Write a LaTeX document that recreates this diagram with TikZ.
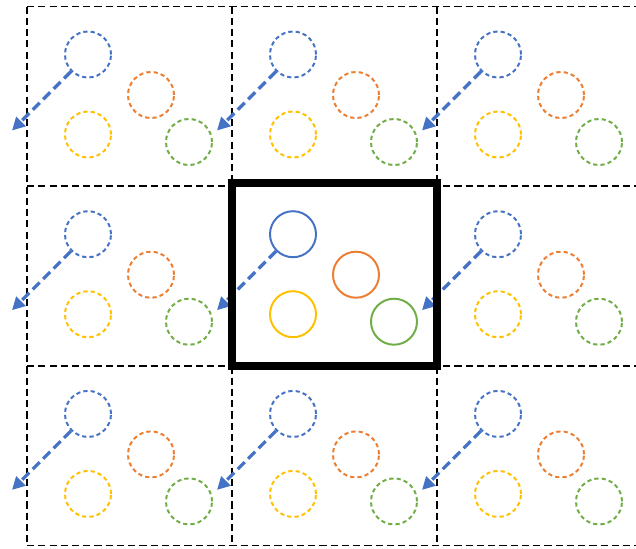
\documentclass[tikz,border=0pt]{standalone}
\usetikzlibrary{arrows.meta}
\definecolor{bleu}{HTML}{4472C4}
\definecolor{orange}{HTML}{ED7D31}
\definecolor{jaune}{HTML}{FFC000}
\definecolor{vert}{HTML}{70AD47}
\begin{document}
\begin{tikzpicture}[x=0.025cm,y=-0.025cm,
  cellule/.style={line width=1.1pt,dash pattern=on 5pt off 3pt},
  part/.style={circle,draw,minimum size=1.15cm,inner sep=0pt,line width=1.4pt},
  pointille/.style={dash pattern=on 3pt off 2.2pt},
  plein/.style={solid},
  fleche/.style={bleu,line width=2.3pt,dash pattern=on 7pt off 3.5pt,
    -{Triangle[length=0.32cm,width=0.32cm]}}]

\useasboundingbox (0,0) rectangle (636,548);
\clip (0,0) rectangle (636,548);

% Grille des images
\foreach \x in {27,232,437}
  \draw[cellule] (\x,6.5) -- (\x,546);
\foreach \y in {6.5,186.2,365.9,545.6}
  \draw[cellule] (27,\y) -- (636,\y);

\foreach \c in {0,1,2}{
  \foreach \r in {0,1,2}{
    \pgfmathsetmacro\x{27+205*\c}
    \pgfmathsetmacro\y{6.5+179.7*\r}
    \edef\sty{\ifnum\c=1 \ifnum\r=1 plein\else pointille\fi\else pointille\fi}
    % Particules
    \node[part,bleu,\sty] (b\c\r) at (\x+61,\y+48) {};
    \node[part,orange,\sty] (o\c\r) at (\x+124,\y+88.5) {};
    \node[part,jaune,\sty] (j\c\r) at (\x+61,\y+128) {};
    \node[part,vert,\sty] (v\c\r) at (\x+162,\y+135.5) {};
    % Deplacement
    \coordinate (t\c\r) at (\x-15,\y+124);
    \draw[fleche] (b\c\r.225) -- (t\c\r);
  }
}

% Boite de simulation
\draw[line width=5.7pt] (232,183) rectangle (437,366);

\end{tikzpicture}
\end{document}
